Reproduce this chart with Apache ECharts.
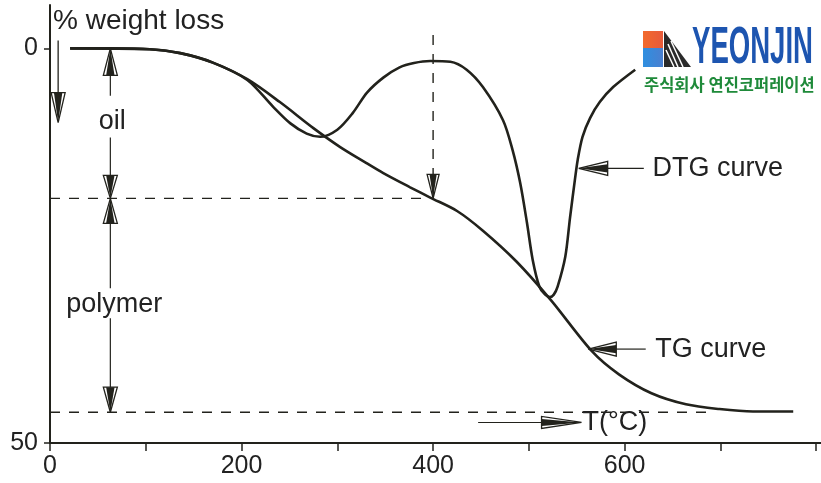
<!DOCTYPE html>
<html>
<head>
<meta charset="utf-8">
<script src="https://cdn.jsdelivr.net/npm/echarts@6/dist/echarts.min.js"></script>
<style>
  html, body { margin: 0; padding: 0; background: #fff; }
  #main { width: 821px; height: 483px; }
</style>
</head>
<body>
<div id="main"></div>
<script>
// TG curve: temperature (°C) vs % weight loss
const tgTemp = [21, 63, 104, 136, 170, 206, 240, 275, 303, 330, 348, 376, 397, 425, 452, 487, 523, 566, 594, 628, 664, 699, 734, 776];
const tgLoss = [0, 0, 0.1, 0.6, 1.8, 3.9, 6.8, 10.1, 12.5, 14.5, 15.8, 17.6, 18.9, 20.6, 23.1, 27.0, 31.9, 38.4, 41.3, 43.7, 45.1, 45.7, 46.0, 46.0];

// DTG curve, drawn on the same scale
const dtgTemp = [21, 104, 136, 170, 206, 233, 251, 268, 282, 300, 316, 331, 348, 365, 380, 397, 418, 435, 452, 473, 483, 491, 498, 504, 511, 517, 522, 526, 530, 538, 543, 548, 551, 556, 564, 574, 588, 611];
const dtgLoss = [0, 0.1, 0.6, 1.8, 4.0, 7.4, 9.5, 10.8, 11.2, 10.3, 8.2, 5.6, 3.7, 2.4, 1.85, 1.6, 1.7, 2.7, 4.9, 9.1, 12.9, 17.1, 22.1, 26.8, 30.2, 31.2, 31.5, 31.2, 30.2, 26.4, 21.4, 16.7, 14.1, 11.2, 8.8, 6.8, 4.9, 2.7];

const xTicks = [0, 100, 200, 300, 400, 500, 600, 700, 800];
const xLabels = [0, 200, 400, 600];
const yLabels = [0, 50];

// guide levels
const oilLevel = 19;        // end of oil loss
const polymerLevel = 46.1;  // end of polymer loss
const markTemp = 400;       // DTG peak temperature
const lowerGuideEnd = 690;

const ink = '#22221c';
const font = 'Liberation Sans, Arial, sans-serif';

function pairs(xs, ys) {
  return xs.map((x, i) => [x, ys[i]]);
}

const chart = echarts.init(document.getElementById('main'));

function guide(data) {
  return {
    type: 'line', data: data, symbol: 'none', silent: true, z: 1,
    lineStyle: { color: ink, width: 1.4, type: [10, 9] }
  };
}

chart.setOption({
  animation: false,
  grid: { left: 50, right: 0, top: 5, bottom: 40 },
  xAxis: {
    type: 'value', min: 0, max: 805,
    axisLine: { onZero: false, lineStyle: { color: ink, width: 2 } },
    axisTick: { customValues: xTicks, length: 8, lineStyle: { color: ink, width: 1.5 } },
    axisLabel: { customValues: xLabels, fontSize: 25, color: '#222', margin: 11, fontFamily: font },
    splitLine: { show: false }
  },
  yAxis: {
    type: 'value', inverse: true, min: -5.5, max: 50,
    axisLine: { show: true, onZero: false, lineStyle: { color: ink, width: 2 } },
    axisTick: { show: true, customValues: yLabels, length: 6, lineStyle: { color: ink, width: 1.5 } },
    axisLabel: { customValues: yLabels, fontSize: 25, color: '#222', margin: 12, fontFamily: font },
    splitLine: { show: false }
  },
  series: [
    guide([[0, oilLevel], [markTemp, oilLevel]]),
    guide([[0, polymerLevel], [lowerGuideEnd, polymerLevel]]),
    guide([[markTemp, -1.7], [markTemp, oilLevel]]),
    {
      name: 'TG curve', type: 'line', data: pairs(tgTemp, tgLoss),
      smooth: 0.3, symbol: 'none', z: 3,
      lineStyle: { color: ink, width: 2.6 }
    },
    {
      name: 'DTG curve', type: 'line', data: pairs(dtgTemp, dtgLoss),
      smooth: 0.3, symbol: 'none', z: 3,
      lineStyle: { color: ink, width: 2.6 }
    }
  ]
});

// annotations placed through the axes
const px = (x, y) => chart.convertToPixel({ gridIndex: 0 }, [x, y]);

function head(tip, dir, len, half) {
  // dir: unit vector from base to tip
  const bx = tip[0] - dir[0] * len, by = tip[1] - dir[1] * len;
  const nx = -dir[1] * half, ny = dir[0] * half;
  return [
    { type: 'polygon', z: 10, shape: { points: [[tip[0], tip[1]], [bx + nx * 0.6, by + ny * 0.6], [bx - nx * 0.6, by - ny * 0.6]] }, style: { fill: ink } },
    { type: 'polyline', z: 10, shape: { points: [[tip[0], tip[1]], [bx + nx, by + ny], [bx - nx, by - ny], [tip[0], tip[1]]] }, style: { stroke: ink, lineWidth: 1.3, fill: 'none' } }
  ];
}
function seg(a, b, w) {
  return { type: 'line', z: 10, shape: { x1: a[0], y1: a[1], x2: b[0], y2: b[1] }, style: { stroke: ink, lineWidth: w || 1.2 } };
}
function label(text, p, align) {
  return {
    type: 'text', z: 10, x: p[0], y: p[1],
    style: { text: text, fill: '#222', fontSize: 27, fontFamily: font, align: align || 'left', verticalAlign: 'middle' }
  };
}

const g = [];
// weight-loss direction arrow
const wTop = px(8.5, -1), wTip = px(8.5, 9.4);
g.push(seg(wTop, [wTip[0], wTip[1] - 20], 1.3), ...head(wTip, [0, 1], 30, 7));

// oil span
const colT = 63;
const oTop = px(colT, 0), oBot = px(colT, oilLevel);
g.push(...head(oTop, [0, -1], 27, 7), seg([oTop[0], oTop[1] + 27], px(colT, 6)), seg(px(colT, 11.3), [oBot[0], oBot[1] - 22]), ...head(oBot, [0, 1], 23, 7));
g.push(label('oil', px(colT + 2, 9.3), 'center'));

// polymer span
const pTop = px(colT, oilLevel), pBot = px(colT, polymerLevel);
g.push(...head(pTop, [0, -1], 25, 7), seg([pTop[0], pTop[1] + 25], px(colT, 30.4)), seg(px(colT, 34.2), [pBot[0], pBot[1] - 25]), ...head(pBot, [0, 1], 25, 7));
g.push(label('polymer', px(colT + 4, 32.4), 'center'));

// DTG peak arrow onto TG curve
g.push(...head(px(markTemp, oilLevel), [0, 1], 24, 6));

// curve leaders
const dTip = px(552, 15.2);
g.push(...head(dTip, [-1, 0], 29, 7), seg([dTip[0] + 29, dTip[1]], px(620, 15.2)), label('DTG curve', px(629, 15.2)));
const tTip = px(562, 38.1);
g.push(...head(tTip, [-1, 0], 28, 7), seg([tTip[0] + 28, tTip[1]], px(622, 38.1)), label('TG curve', px(632, 38.1)));

// temperature direction arrow
const tArrTip = px(555, 47.4);
g.push(seg(px(447, 47.4), [tArrTip[0] - 38, tArrTip[1]]), ...head(tArrTip, [1, 0], 40, 6), label('T(°C)', [tArrTip[0] + 1, tArrTip[1]]));

// y axis name
g.push({ type: 'text', z: 10, x: 53, y: 21, style: { text: '% weight loss', fill: '#222', fontSize: 28, fontFamily: font, verticalAlign: 'middle' } });

// company logo
g.push(
  { type: 'rect', shape: { x: 643, y: 31, width: 20, height: 17 }, style: { fill: { type: 'linear', x: 0, y: 0, x2: 1, y2: 0, colorStops: [{ offset: 0, color: '#f26a2c' }, { offset: 1, color: '#e85a3a' }] } } },
  { type: 'rect', shape: { x: 643, y: 48, width: 20, height: 19 }, style: { fill: { type: 'linear', x: 0, y: 0, x2: 1, y2: 0, colorStops: [{ offset: 0, color: '#2f8fe0' }, { offset: 1, color: '#4a7fd0' }] } } },
  { type: 'polygon', shape: { points: [[664, 31], [691, 67], [664, 67]] }, style: { fill: '#2a2a2a' } },
  { type: 'polyline', shape: { points: [[668, 44], [678, 67]] }, style: { stroke: '#fff', lineWidth: 1.5 } },
  { type: 'polyline', shape: { points: [[666, 50], [674, 67]] }, style: { stroke: '#fff', lineWidth: 1.5 } },
  { type: 'polyline', shape: { points: [[671, 41], [683, 67]] }, style: { stroke: '#fff', lineWidth: 1.5 } },
  {
    type: 'text', x: 692, y: 49, scaleX: 0.53,
    style: { text: 'YEONJIN', fill: '#1d55b0', fontSize: 52, fontWeight: 'bold', fontFamily: 'Liberation Sans, Arial, sans-serif', verticalAlign: 'middle' }
  },
  {
    type: 'text', x: 644, y: 85,
    style: { text: '주식회사 연진코퍼레이션', fill: '#1f8a3a', fontSize: 16.5, fontWeight: 'bold', fontFamily: 'Noto Sans CJK KR', verticalAlign: 'middle' }
  }
);

chart.setOption({ graphic: g });
</script>
</body>
</html>
